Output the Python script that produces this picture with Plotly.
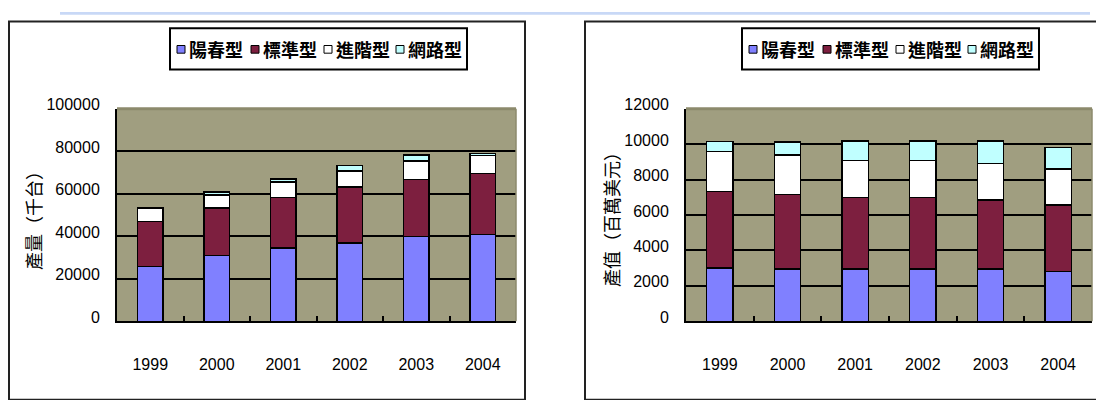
import plotly.graph_objects as go

# ---------------- data ----------------
years = ["1999", "2000", "2001", "2002", "2003", "2004"]
series_names = ["陽春型", "標準型", "進階型", "網路型"]
series_colors = ["#8080ff", "#7d1f3f", "#ffffff", "#c0ffff"]

# left chart: 產量(千台)
qty_basic = [25700, 30900, 34500, 36900, 39900, 40800]
qty_standard = [21300, 22400, 23800, 26300, 26900, 28600]
qty_advanced = [6000, 6200, 7200, 7400, 8700, 8700]
qty_network = [300, 1200, 1500, 2700, 2700, 900]

# right chart: 產值(百萬美元)
val_basic = [3000, 2960, 2940, 2940, 2940, 2810]
val_standard = [4330, 4190, 4050, 4050, 3910, 3750]
val_advanced = [2245, 2245, 2090, 2090, 2070, 2050]
val_network = [575, 715, 1100, 1100, 1260, 1210]

left_ticks = [0, 20000, 40000, 60000, 80000, 100000]
right_ticks = [0, 2000, 4000, 6000, 8000, 10000, 12000]
left_title = "產量（千台）"
right_title = "產值（百萬美元）"

# ---------------- layout helpers ----------------
W, H = 1096, 400
def px(x):
    return x / W
def py(y):
    return 1 - y / H

NUM_FONT = dict(family="Liberation Sans, Arial, sans-serif", size=16, color="#000000")
CJK = "Noto Sans CJK TC, Noto Sans CJK SC, sans-serif"
PLOT_BG = "#a09e80"

fig = go.Figure()

left_series = [qty_basic, qty_standard, qty_advanced, qty_network]
right_series = [val_basic, val_standard, val_advanced, val_network]

for name, color, vals in zip(series_names, series_colors, left_series):
    fig.add_trace(go.Bar(x=years, y=vals, name=name, marker=dict(color=color, line=dict(color="#000000", width=1.5)),
                         xaxis="x", yaxis="y", showlegend=False))
for name, color, vals in zip(series_names, series_colors, right_series):
    fig.add_trace(go.Bar(x=years, y=vals, name=name, marker=dict(color=color, line=dict(color="#000000", width=1.5)),
                         xaxis="x2", yaxis="y2", showlegend=False))

def xaxis_cfg(dom, anchor):
    return dict(domain=dom, anchor=anchor, type="category", showgrid=False,
                ticks="inside", tickson="boundaries", ticklen=5, tickwidth=1.5, tickcolor="#000000",
                showline=True, linecolor="#000000", linewidth=2, tickfont=NUM_FONT,
                ticklabelstandoff=28, fixedrange=True)

def yaxis_cfg(dom, anchor, tickvals):
    return dict(domain=dom, anchor=anchor, range=[tickvals[0], tickvals[-1]],
                tickmode="array", tickvals=tickvals, ticktext=[str(v) for v in tickvals],
                showgrid=True, gridcolor="#000000", gridwidth=2, zeroline=False, ticks="",
                showline=True, linecolor="#000000", linewidth=2, tickfont=NUM_FONT,
                ticklabelstandoff=12, ticklabelshift=-4, fixedrange=True)

ydom = [py(323), py(101)]
fig.update_layout(
    width=W, height=H, margin=dict(l=0, r=0, t=0, b=0),
    paper_bgcolor="#ffffff", plot_bgcolor=PLOT_BG,
    barmode="stack", bargap=0.61, showlegend=False,
    xaxis=xaxis_cfg([px(117), px(516)], "y"),
    yaxis=yaxis_cfg(ydom, "x", left_ticks),
    xaxis2=xaxis_cfg([px(686), px(1092)], "y2"),
    yaxis2=yaxis_cfg(ydom, "x2", right_ticks),
)

shapes = []
annotations = []

# top light-blue strip
shapes.append(dict(type="rect", xref="paper", yref="paper", x0=px(60), x1=px(1090), y0=py(3), y1=py(0),
                   line=dict(width=0), fillcolor="#c8d8f6", layer="below"))
# panel frames
shapes.append(dict(type="rect", xref="paper", yref="paper", x0=px(9), x1=px(525), y0=py(405), y1=py(10),
                   line=dict(color="#222222", width=2), fillcolor="rgba(0,0,0,0)", layer="below"))
shapes.append(dict(type="rect", xref="paper", yref="paper", x0=px(585), x1=px(1110), y0=py(405), y1=py(10),
                   line=dict(color="#222222", width=2), fillcolor="rgba(0,0,0,0)", layer="below"))

# plot area top/right border (lighter), covering the top gridline
for xr, yr in (("x domain", "y domain"), ("x2 domain", "y2 domain")):
    shapes.append(dict(type="line", xref=xr, yref=yr, x0=0, x1=1, y0=1, y1=1,
                       line=dict(color="#8c8a6c", width=3), layer="above"))
    shapes.append(dict(type="line", xref=xr, yref=yr, x0=1, x1=1, y0=0, y1=1,
                       line=dict(color="#8c8a6c", width=1.5), layer="above"))

# legends (drawn manually)
sq_off = [7, 81, 154, 226]
def add_legend(box_left):
    shapes.append(dict(type="rect", xref="paper", yref="paper", x0=px(box_left), x1=px(box_left + 297),
                       y0=py(60), y1=py(17), line=dict(color="#000000", width=2), fillcolor="#ffffff"))
    for off, name, color in zip(sq_off, series_names, series_colors):
        x0 = box_left + off
        shapes.append(dict(type="rect", xref="paper", yref="paper", x0=px(x0), x1=px(x0 + 8),
                           y0=py(43), y1=py(35), line=dict(color="#000000", width=1), fillcolor=color))
        annotations.append(dict(xref="paper", yref="paper", x=px(x0 + 10), y=py(39), xanchor="left",
                                yanchor="middle", text="<b>" + name + "</b>", showarrow=False,
                                font=dict(family=CJK, size=18, color="#000000")))
add_legend(170)
add_legend(742)

# axis titles
annotations.append(dict(xref="paper", yref="paper", x=px(33), y=py(213), text=left_title, textangle=-90,
                        showarrow=False, xanchor="center", yanchor="middle",
                        font=dict(family=CJK, size=18, color="#000000")))
annotations.append(dict(xref="paper", yref="paper", x=px(611), y=py(212), text=right_title, textangle=-90,
                        showarrow=False, xanchor="center", yanchor="middle",
                        font=dict(family=CJK, size=18, color="#000000")))

fig.update_layout(shapes=shapes, annotations=annotations)
fig.write_html("out.html")
